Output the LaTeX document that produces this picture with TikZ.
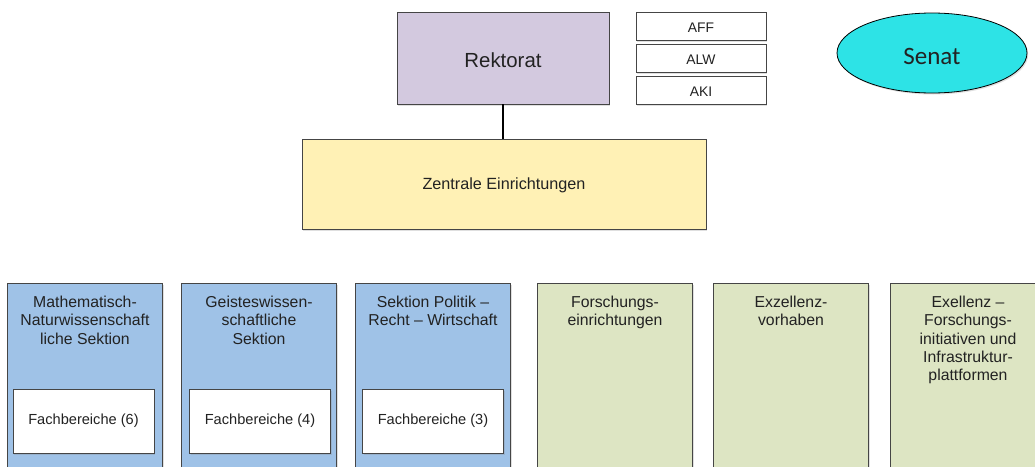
\documentclass[tikz,border=0pt]{standalone}
\usepackage{fontspec}
\setmainfont{Liberation Sans}
\newfontfamily\senatfont{Carlito}
\usetikzlibrary{shadows,shapes.geometric}
\definecolor{rekfill}{HTML}{D3C9DF}
\definecolor{zentfill}{HTML}{FFF1B5}
\definecolor{bluefill}{HTML}{9FC2E7}
\definecolor{greenfill}{HTML}{DDE5C3}
\definecolor{senatfill}{HTML}{2DE3E6}
\definecolor{edge}{HTML}{454545}
\definecolor{txt}{HTML}{222222}
\tikzset{
  box/.style={draw=edge, line width=0.8pt, rectangle, inner sep=0pt, text=txt,
    drop shadow={shadow xshift=1.2pt, shadow yshift=-1.5pt, opacity=0.25}},
  colbox/.style={box, minimum width=155pt, minimum height=200pt},
  subbox/.style={box, fill=white, minimum width=141pt, minimum height=64pt,
    font=\fontsize{14.6}{17}\selectfont},
  smallbox/.style={box, fill=white, minimum width=130pt, minimum height=28pt,
    text height=13pt, text depth=0pt, font=\fontsize{13.9}{16}\selectfont},
  coltext/.style={anchor=north, inner sep=0pt, align=center, text=txt,
    font=\fontsize{15.8}{18.3}\selectfont},
}
\begin{document}
\begin{tikzpicture}[x=1pt,y=-1pt]
\useasboundingbox (0,0) rectangle (1035,466);
\clip (0,0) rectangle (1035,466);
\fill[white] (0,0) rectangle (1035,466);

\node[box, fill=rekfill, minimum width=212pt, minimum height=92pt,
  text height=18.6pt, text depth=0pt,
  font=\fontsize{20.4}{24}\selectfont] (rek) at (503,58) {Rektorat};
\node[smallbox] (aff) at (701,26) {AFF};
\node[smallbox] (alw) at (701,58) {ALW};
\node[smallbox] (aki) at (701,90) {AKI};
\node[draw=black, line width=0.8pt, ellipse, fill=senatfill, inner sep=0pt,
  minimum width=190pt, minimum height=80pt, text=txt,
  text height=23pt, text depth=0pt,
  drop shadow={shadow xshift=1.2pt, shadow yshift=-1.5pt, opacity=0.25},
  font=\senatfont\fontsize{25}{28}\selectfont] (senat) at (932,53) {Senat};
\node[box, fill=zentfill, minimum width=404pt, minimum height=90pt,
  text depth=0pt,
  font=\fontsize{16.2}{19}\selectfont] (zent) at (504,184) {Zentrale Einrichtungen};
\draw[line width=2.4pt, black] (rek.south) -- (rek.south |- zent.north);

\node[colbox, fill=bluefill] (c1) at (85,383) {};
\node[colbox, fill=bluefill] (c2) at (259,383) {};
\node[colbox, fill=bluefill] (c3) at (433,383) {};
\node[colbox, fill=greenfill] (c4) at (615,383) {};
\node[colbox, fill=greenfill] (c5) at (791,383) {};
\node[colbox, fill=greenfill] (c6) at (968,383) {};

\node[coltext] (t1) at (85,296) {Mathematisch-\\Naturwissenschaft\\liche Sektion};
\node[coltext] (t2) at (259,296) {Geisteswissen-\\schaftliche\\Sektion};
\node[coltext] (t3) at (433,296) {Sektion Politik –\\Recht – Wirtschaft};
\node[coltext] (t4) at (615,296) {Forschungs-\\einrichtungen};
\node[coltext] (t5) at (791,296) {Exzellenz-\\vorhaben};
\node[coltext] (t6) at (968,296) {Exellenz –\\Forschungs-\\initiativen und\\Infrastruktur-\\plattformen};

\node[subbox] (f1) at (83.5,421) {Fachbereiche (6)};
\node[subbox] (f2) at (260,421) {Fachbereiche (4)};
\node[subbox] (f3) at (433,421) {Fachbereiche (3)};
\end{tikzpicture}
\end{document}
